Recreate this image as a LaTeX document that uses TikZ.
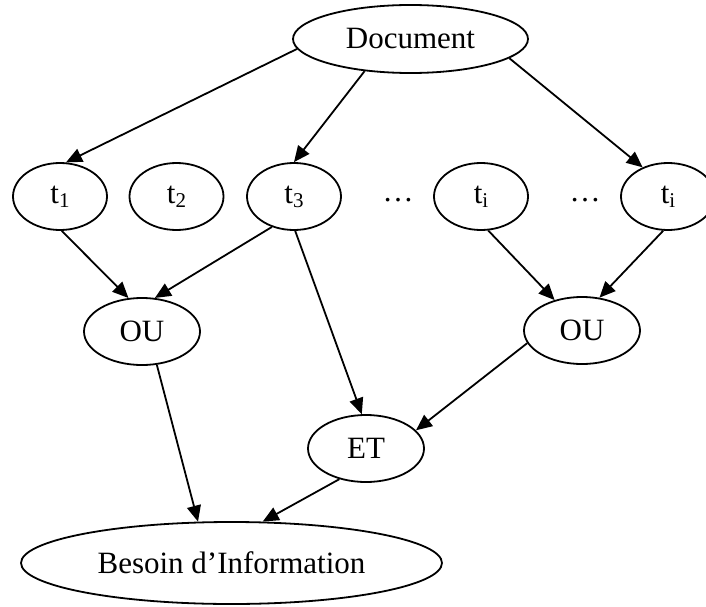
\documentclass[tikz,border=0pt]{standalone}
\usepackage{fontspec}
\setmainfont{Liberation Serif}
\usetikzlibrary{shapes.geometric,arrows.meta}
\newcommand{\mysub}[1]{\raisebox{-4pt}{\fontsize{21}{25}\selectfont #1}}
\begin{document}
\begin{tikzpicture}[x=1pt,y=1pt,
  every node/.style={font=\fontsize{31}{37}\selectfont},
  ell/.style={ellipse,draw,line width=1.8pt,inner sep=0pt},
  tnode/.style={ell,minimum width=94pt,minimum height=67pt},
  gate/.style={ell,minimum width=116pt,minimum height=67pt},
  arr/.style={line width=1.8pt,-{Triangle[length=16pt,width=14pt]}}]
\useasboundingbox (0,0) rectangle (706,-607);
\node[ell,minimum width=235pt,minimum height=68pt] (doc) at (410.5,-39) {Document};
\node[tnode] (t1) at (60,-196.5) {t\mysub{1}};
\node[tnode] (t2) at (176.5,-196.5) {t\mysub{2}};
\node[tnode] (t3) at (294,-196.5) {t\mysub{3}};
\node (d1) at (398,-200) {\dots};
\node[tnode] (ti) at (481,-196.5) {t\mysub{i}};
\node (d2) at (585,-200) {\dots};
\node[tnode] (tj) at (668,-196.5) {t\mysub{i}};
\node[gate] (ou1) at (142,-331.5) {OU};
\node[gate] (ou2) at (582,-330.5) {OU};
\node[gate] (et) at (366,-448.5) {ET};
\node[ell,minimum width=421pt,minimum height=82pt] (bes) at (231.5,-563) {Besoin d’Information};
\draw[arr] (doc.185) -- (t1.80);
\draw[arr] (doc.215) -- (t3.90);
\draw[arr] (doc.349) -- (tj.131);
\draw[arr] (t1.273) -- (ou1.112);
\draw[arr] (t3.234) -- (ou1.69);
\draw[arr] (t3.272) -- (et.97);
\draw[arr] (ti.282) -- (ou2.132);
\draw[arr] (tj.262) -- (ou2.62);
\draw[arr] (ou2.193) -- (et.20);
\draw[arr] (ou1.294) -- (bes.129);
\draw[arr] (et.229) -- (bes.53);
\end{tikzpicture}
\end{document}
